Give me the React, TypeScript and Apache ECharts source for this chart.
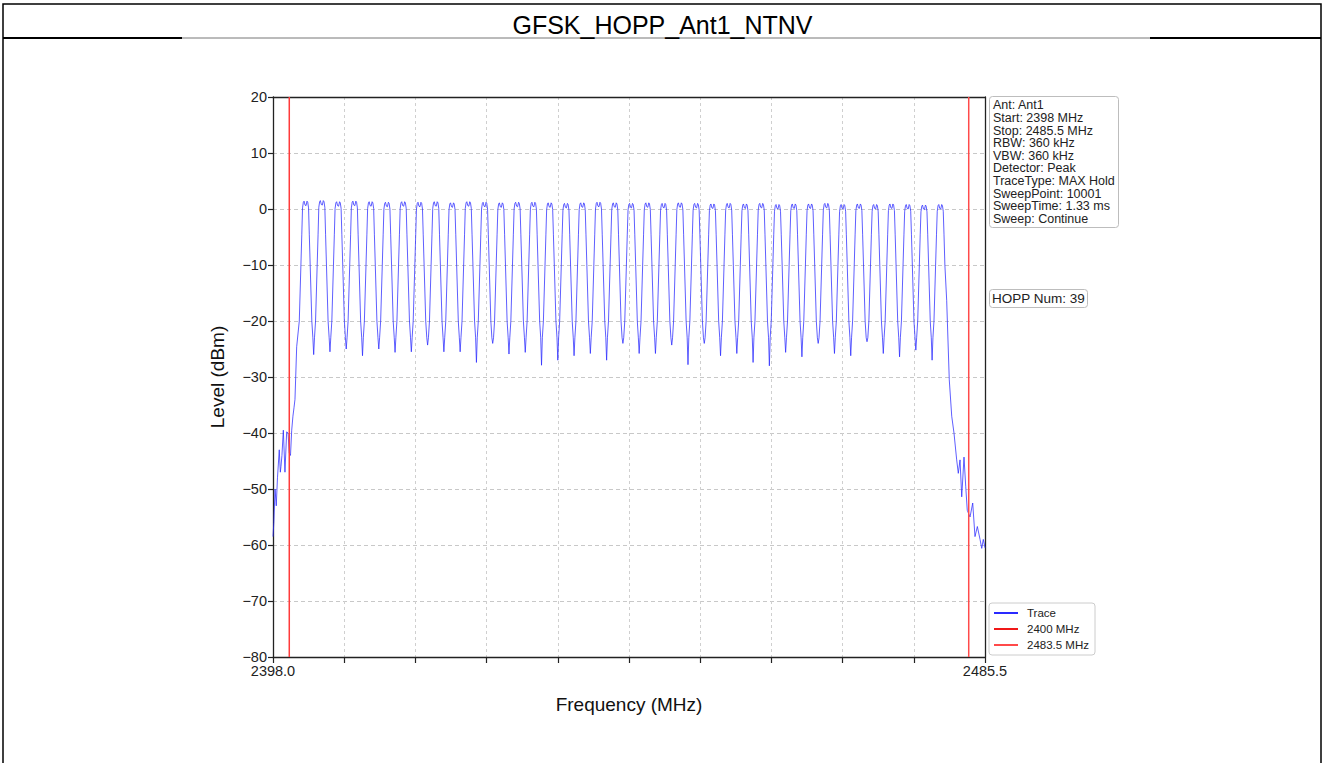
import React, { useEffect, useRef } from "react";
import * as echarts from "echarts";

// ---- data ----
const TITLE = "GFSK_HOPP_Ant1_NTNV";
const X_MIN = 2398.0;
const X_MAX = 2485.5;
const X_EDGE_LABELS = ["2398.0", "2485.5"];
const Y_MIN = -80;
const Y_MAX = 20;
const Y_STEP = 10;
const X_DIVISIONS = 10;

const INFO_LINES = [
  "Ant: Ant1",
  "Start: 2398 MHz",
  "Stop: 2485.5 MHz",
  "RBW: 360 kHz",
  "VBW: 360 kHz",
  "Detector: Peak",
  "TraceType: MAX Hold",
  "SweepPoint: 10001",
  "SweepTime: 1.33 ms",
  "Sweep: Continue",
];
const HOPP_TEXT = "HOPP Num: 39";

const LIMIT_LOW = 2400;
const LIMIT_HIGH = 2483.5;

// hopping channel centres (MHz)
const CHANNEL_CENTERS = [
  2402, 2404, 2406, 2408, 2410, 2412, 2414, 2416, 2418, 2420,
  2422, 2424, 2426, 2428, 2430, 2432, 2434, 2436, 2438, 2440,
  2442, 2444, 2446, 2448, 2450, 2452, 2454, 2456, 2458, 2460,
  2462, 2464, 2466, 2468, 2470, 2472, 2474, 2476, 2478, 2480,
];
// top level of each channel (dBm)
const PEAK_LEVELS = [
  1.4, 1.5, 1.3, 1.4, 1.3, 1.2, 1.3, 1.2, 1.3, 1.1,
  1.3, 1.2, 1.1, 1.2, 1.2, 1.1, 1.0, 1.1, 1.2, 1.1,
  1.0, 1.1, 1.0, 1.1, 1.0, 0.9, 1.0, 0.9, 1.0, 0.8,
  0.9, 0.9, 1.0, 0.8, 0.9, 0.8, 0.9, 0.8, 0.7, 0.8,
];
// minimum between neighbouring channels (dBm)
const DIP_LEVELS = [
  -26.0, -25.5, -25.0, -26.2, -25.0, -25.6,
  -25.5, -24.3, -25.5, -25.5, -27.4, -24.0, -25.9, -25.6, -27.9,
  -27.0, -26.2, -25.8, -27.0, -24.0, -25.8, -25.8, -24.3, -27.8,
  -24.0, -26.2, -25.8, -27.4, -28.0, -25.6, -26.4, -24.0, -25.8,
  -26.2, -23.7, -25.8, -26.4, -25.2, -27.0,
];
// shape of one channel: offset from centre (MHz) and level (abs dBm, or relative to peak)
const SHAPE_OFFSETS = [-0.9, -0.77, -0.57, -0.46, -0.37, -0.27, -0.18, -0.06, 0.06, 0.18, 0.27, 0.37, 0.46, 0.57, 0.77, 0.9];
const SHAPE_LEVELS = [-23, -20, -10, -4.5, null, null, null, null, null, null, null, null, -4.5, -10, -20, -23];
const SHAPE_PEAK_REL = [0, 0, 0, 0, -1.2, -0.2, 0, -0.7, -0.8, 0, -0.2, -1.2, 0, 0, 0, 0];

// band edges (freq, level)
const LEFT_EDGE_FREQ = [2398.0, 2398.1, 2398.25, 2398.4, 2398.55, 2398.77, 2398.9, 2398.98, 2399.1, 2399.27, 2399.47, 2399.68, 2399.85, 2400.0, 2400.15, 2400.3, 2400.45, 2400.58, 2400.7, 2400.91];
const LEFT_EDGE_LEVEL = [-58.5, -56, -50, -53, -48, -43, -47, -46, -44, -39.5, -47, -39.8, -40, -43.6, -44, -39.5, -37, -35.5, -34, -24.6];
const RIGHT_EDGE_FREQ = [2480.79, 2481.11, 2481.41, 2481.69, 2482.02, 2482.22, 2482.43, 2482.64, 2482.92, 2483.13, 2483.32, 2483.66, 2483.99, 2484.27, 2484.56, 2484.89, 2485.1, 2485.29, 2485.5];
const RIGHT_EDGE_LEVEL = [-16.3, -30.5, -37, -40, -44.8, -47.2, -44.8, -51.4, -44.3, -49.5, -53.8, -55, -52.5, -58.5, -56.7, -59, -60.6, -59, -60.5];

const FONT = "'Liberation Sans', Arial, Helvetica, sans-serif";

function buildTrace(): number[][] {
  const pts: number[][] = [];
  LEFT_EDGE_FREQ.forEach((f, i) => pts.push([f, LEFT_EDGE_LEVEL[i]]));
  const last = CHANNEL_CENTERS.length - 1;
  CHANNEL_CENTERS.forEach((c, k) => {
    if (k > 0) pts.push([c - 1, DIP_LEVELS[k - 1]]);
    SHAPE_OFFSETS.forEach((o, j) => {
      if (k === 0 && o < -0.85) return;
      if (k === last && o > 0.6) return;
      const abs = SHAPE_LEVELS[j];
      const v = abs === null ? PEAK_LEVELS[k] + SHAPE_PEAK_REL[j] : abs;
      pts.push([c + o, v]);
    });
  });
  RIGHT_EDGE_FREQ.forEach((f, i) => pts.push([f, RIGHT_EDGE_LEVEL[i]]));
  return pts;
}

export default function App() {
  const ref = useRef<HTMLDivElement>(null);
  useEffect(() => {
    if (!ref.current) return;
    const chart = echarts.init(ref.current, null, { renderer: "svg" });
    const trace = buildTrace();
    const option: any = {
      animation: false,
      backgroundColor: "#ffffff",
      textStyle: { fontFamily: FONT },
      title: [
        {
          text: TITLE,
          left: "center",
          top: 7,
          textStyle: { fontFamily: FONT, fontSize: 25, fontWeight: "normal", color: "#000" },
        },
        {
          text: INFO_LINES.join("\n"),
          left: 989,
          top: 96,
          padding: [3, 4, 3, 4],
          backgroundColor: "#fff",
          borderColor: "#bdbdbd",
          borderWidth: 1,
          borderRadius: 3,
          textStyle: { fontFamily: FONT, fontSize: 12.5, lineHeight: 12.6, fontWeight: "normal", color: "#222" },
        },
        {
          text: HOPP_TEXT,
          left: 989,
          top: 289,
          padding: [2, 3, 2, 3],
          backgroundColor: "#fff",
          borderColor: "#bdbdbd",
          borderWidth: 1,
          borderRadius: 3,
          textStyle: { fontFamily: FONT, fontSize: 13.5, lineHeight: 15, fontWeight: "normal", color: "#222" },
        },
      ],
      legend: {
        orient: "vertical",
        left: 989,
        top: 603,
        padding: [4, 6, 4, 5],
        itemWidth: 24,
        itemHeight: 2,
        itemGap: 4,
        icon: "rect",
        backgroundColor: "#fff",
        borderColor: "#cccccc",
        borderWidth: 1,
        borderRadius: 3,
        textStyle: { fontFamily: FONT, fontSize: 11.5, color: "#222", padding: [0, 0, 0, 4] },
        data: ["Trace", "2400 MHz", "2483.5 MHz"],
      },
      grid: {
        left: 273,
        top: 97,
        width: 712,
        height: 560,
        show: false,
        containLabel: false,
      },
      xAxis: [
        {
          type: "value",
          min: X_MIN,
          max: X_MAX,
          position: "bottom",
          name: "Frequency (MHz)",
          nameLocation: "middle",
          nameGap: 38,
          nameTextStyle: { fontFamily: FONT, fontSize: 19, color: "#111" },
          axisLine: { show: true, onZero: false, lineStyle: { color: "#222", width: 1.3 } },
          axisTick: { show: false },
          axisLabel: { show: false },
          splitLine: { show: false },
        },
        {
          type: "value",
          min: 0,
          max: X_DIVISIONS,
          interval: 1,
          position: "bottom",
          axisLine: { show: false, onZero: false },
          axisTick: { show: true, length: 6, lineStyle: { color: "#222", width: 1.2 } },
          axisLabel: {
            show: true,
            showMinLabel: true,
            showMaxLabel: true,
            margin: 6,
            fontFamily: FONT,
            fontSize: 14.5,
            color: "#222",
            formatter: (v: number) => (v === 0 ? X_EDGE_LABELS[0] : v === X_DIVISIONS ? X_EDGE_LABELS[1] : ""),
          },
          splitLine: { show: true, showMinLine: false, showMaxLine: false, lineStyle: { color: "#cfcfcf", type: [3, 3], width: 1 } },
        },
        {
          type: "value",
          min: 0,
          max: X_DIVISIONS,
          position: "top",
          axisLine: { show: true, onZero: false, lineStyle: { color: "#222", width: 1.3 } },
          axisTick: { show: false },
          axisLabel: { show: false },
          splitLine: { show: false },
        },
      ],
      yAxis: [
        {
          type: "value",
          min: Y_MIN,
          max: Y_MAX,
          interval: Y_STEP,
          position: "left",
          name: "Level (dBm)",
          nameLocation: "middle",
          nameGap: 46,
          nameTextStyle: { fontFamily: FONT, fontSize: 19, color: "#111" },
          axisLine: { show: true, onZero: false, lineStyle: { color: "#222", width: 1.3 } },
          axisTick: { show: true, length: 5, lineStyle: { color: "#222", width: 1.2 } },
          axisLabel: {
            margin: 6,
            fontFamily: FONT,
            fontSize: 14.5,
            color: "#222",
            formatter: (v: number) => String(v).replace("-", "\u2212"),
          },
          splitLine: { show: true, showMinLine: false, showMaxLine: false, lineStyle: { color: "#c8c8c8", type: [4, 3], width: 1 } },
        },
        {
          type: "value",
          min: Y_MIN,
          max: Y_MAX,
          position: "right",
          axisLine: { show: true, onZero: false, lineStyle: { color: "#222", width: 1.3 } },
          axisTick: { show: false },
          axisLabel: { show: false },
          splitLine: { show: false },
        },
      ],
      graphic: [
        { type: "rect", silent: true, shape: { x: 3, y: 4, width: 1318, height: 780 }, style: { fill: "none", stroke: "#000", lineWidth: 1.5 } },
        { type: "line", silent: true, shape: { x1: 3, y1: 38, x2: 182, y2: 38 }, style: { stroke: "#000", lineWidth: 2 } },
        { type: "line", silent: true, shape: { x1: 182, y1: 38, x2: 1150, y2: 38 }, style: { stroke: "#777", lineWidth: 1 } },
        { type: "line", silent: true, shape: { x1: 1150, y1: 38, x2: 1321, y2: 38 }, style: { stroke: "#000", lineWidth: 2 } },
      ],
      series: [
        {
          name: "Trace",
          type: "line",
          xAxisIndex: 0,
          yAxisIndex: 0,
          data: trace,
          symbol: "none",
          color: "#2a2aff",
          lineStyle: { color: "#2a2aff", width: 1, opacity: 0.75 },
          z: 3,
        },
        {
          name: "2400 MHz",
          type: "line",
          xAxisIndex: 0,
          yAxisIndex: 0,
          data: [[LIMIT_LOW, Y_MIN], [LIMIT_LOW, Y_MAX]],
          symbol: "none",
          color: "#f01818",
          lineStyle: { color: "#ff3b3b", width: 1.5 },
          z: 4,
        },
        {
          name: "2483.5 MHz",
          type: "line",
          xAxisIndex: 0,
          yAxisIndex: 0,
          data: [[LIMIT_HIGH, Y_MIN], [LIMIT_HIGH, Y_MAX]],
          symbol: "none",
          color: "#ff4a4a",
          lineStyle: { color: "#ff4a4a", width: 1.5 },
          z: 4,
        },
      ],
    };
    chart.setOption(option);
    return () => chart.dispose();
  }, []);
  return (
    <div
      ref={ref}
      style={{ position: "absolute", left: 0, top: 0, width: 1325, height: 763 }}
    />
  );
}
